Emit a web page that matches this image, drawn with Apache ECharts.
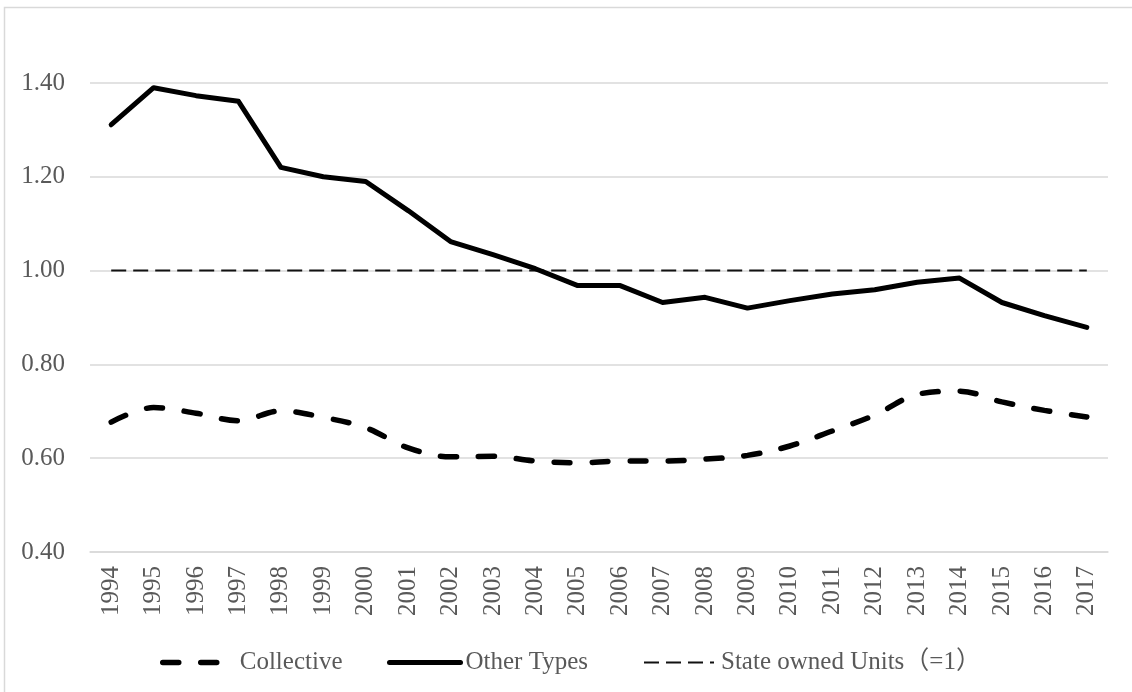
<!DOCTYPE html>
<html>
<head>
<meta charset="utf-8">
<title>Wage ratio by ownership type, 1994–2017</title>
<script src="https://cdn.jsdelivr.net/npm/echarts@6/dist/echarts.min.js"></script>
<style>
  html, body { margin: 0; padding: 0; background: #ffffff; }
  #chart { width: 1132px; height: 692px; }
</style>
</head>
<body>
<div id="chart"></div>
<script>
// Years on the category axis
const years = ['1994','1995','1996','1997','1998','1999','2000','2001','2002','2003','2004','2005',
               '2006','2007','2008','2009','2010','2011','2012','2013','2014','2015','2016','2017'];

// Ratio to state owned units (state owned = 1)
const collective = [0.677, 0.708, 0.696, 0.680, 0.701, 0.687, 0.665, 0.622, 0.603, 0.604, 0.594, 0.590,
                    0.594, 0.594, 0.598, 0.606, 0.626, 0.658, 0.692, 0.736, 0.743, 0.720, 0.702, 0.688];
const otherTypes = [1.311, 1.390, 1.373, 1.361, 1.220, 1.200, 1.190, 1.128, 1.062, 1.034, 1.004, 0.968,
                    0.968, 0.932, 0.943, 0.920, 0.936, 0.950, 0.959, 0.975, 0.984, 0.932, 0.904, 0.879];
const stateOwned = [1, 1, 1, 1, 1, 1, 1, 1, 1, 1, 1, 1,
                    1, 1, 1, 1, 1, 1, 1, 1, 1, 1, 1, 1];

const seriesNames = ['Collective', 'Other Types', 'State owned Units\uFF08=1\uFF09'];

const FONT = '"Liberation Serif", "Noto Sans CJK JP", serif';
const TEXT = '#595959';
const GRID = '#d9d9d9';

// One legend block per series so each entry sits at its own offset
function legendBlock(name, left, iconWidth, textGap) {
  return {
    left: left,
    top: 650,
    padding: 0,
    itemWidth: iconWidth,
    itemHeight: 14,
    textStyle: { fontFamily: FONT, fontSize: 25, color: TEXT, padding: [0, 0, 0, textGap] },
    itemStyle: { opacity: 0 },
    lineStyle: { width: 'inherit', type: 'inherit', cap: 'inherit' },
    data: [name]
  };
}

const chart = echarts.init(document.getElementById('chart'), null, { renderer: 'canvas' });

chart.setOption({
  animation: false,
  backgroundColor: '#ffffff',
  graphic: [{
    type: 'rect',
    silent: true,
    shape: { x: 4.5, y: 7.5, width: 1200, height: 800 },
    style: { fill: 'none', stroke: GRID, lineWidth: 1.5 }
  }],
  grid: { left: 90, right: 24, top: 83, bottom: 140 },
  legend: [
    legendBlock(seriesNames[0], 160, 65, 7),
    legendBlock(seriesNames[1], 387, 71, 0),
    legendBlock(seriesNames[2], 643, 70, 2)
  ],
  xAxis: {
    type: 'category',
    data: years,
    boundaryGap: true,
    axisLine: { show: true, lineStyle: { color: GRID, width: 1.5 } },
    axisTick: { show: false },
    axisLabel: { rotate: 90, margin: 14, fontFamily: FONT, fontSize: 25, color: TEXT, interval: 0 }
  },
  yAxis: {
    type: 'value',
    min: 0.4,
    max: 1.4,
    interval: 0.2,
    axisLine: { show: false },
    axisTick: { show: false },
    splitLine: { lineStyle: { color: GRID, width: 1.5 } },
    axisLabel: {
      margin: 25,
      fontFamily: FONT, fontSize: 25, color: TEXT,
      formatter: v => v.toFixed(2)
    }
  },
  series: [
    {
      name: seriesNames[0],
      type: 'line',
      data: collective,
      smooth: 0.35,
      symbol: 'none',
      lineStyle: { color: '#000000', width: 5.5, type: [16, 22], cap: 'round' },
      itemStyle: { color: '#000000' },
      z: 3
    },
    {
      name: seriesNames[1],
      type: 'line',
      data: otherTypes,
      symbol: 'none',
      lineStyle: { color: '#000000', width: 5, join: 'round', cap: 'round' },
      itemStyle: { color: '#000000' },
      z: 4
    },
    {
      name: seriesNames[2],
      type: 'line',
      data: stateOwned,
      symbol: 'none',
      lineStyle: { color: '#111111', width: 2, type: [15, 7] },
      itemStyle: { color: '#111111' },
      z: 2
    }
  ]
});
</script>
</body>
</html>
